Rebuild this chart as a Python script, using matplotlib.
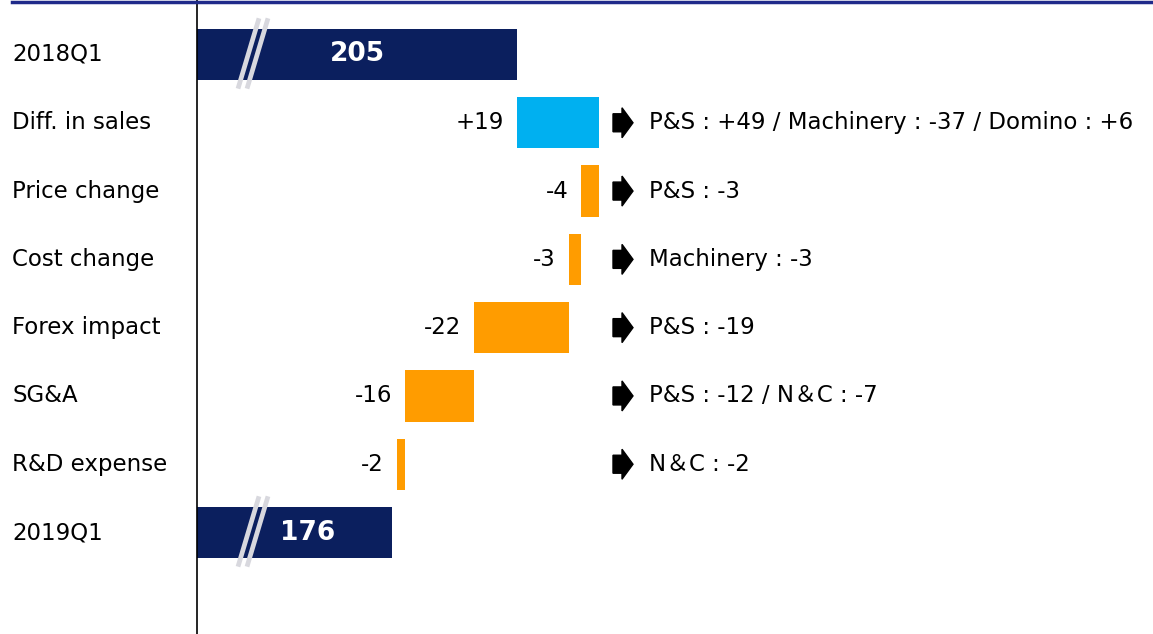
import matplotlib.pyplot as plt
from matplotlib.lines import Line2D
from matplotlib.patches import Polygon
import matplotlib.transforms as mtransforms

categories = ['2018Q1', 'Diff. in sales', 'Price change', 'Cost change',
              'Forex impact', 'SG&A', 'R&D expense', '2019Q1']
start_total = 205
end_total = 176
deltas = [19, -4, -3, -22, -16, -2]
notes = ['P&S : +49 / Machinery : -37 / Domino : +6', 'P&S : -3',
         'Machinery : -3', 'P&S : -19', 'P&S : -12 / N\uff06C : -7',
         'N\uff06C : -2']

NAVY = '#0b1f5e'
CYAN = '#00b0f0'
ORANGE = '#ff9c00'

W, H = 1153, 634
fig = plt.figure(figsize=(W / 100, H / 100), dpi=100)
ax = fig.add_axes([197 / W, 0, (W - 197) / W, 1])

# pixel scale of the original layout
PPU = 4.3          # px per unit on x
X0 = 130.6         # value at the axis line
ROW = 68.3         # px per row
ax.set_xlim(X0, X0 + (W - 197) / PPU)
ax.set_ylim(7 + (H - 532.5) / ROW, -54.5 / ROW)

fs = 16.5
fam = ['DejaVu Sans', 'Noto Sans CJK JP']
h = 0.75

# totals
ax.barh(0, start_total, height=h, color=NAVY)
ax.barh(7, end_total, height=h, color=NAVY)
ax.text((X0 + start_total) / 2, 0, str(start_total), color='white',
        fontsize=19, fontweight='bold', ha='center', va='center')
ax.text((X0 + end_total) / 2 + 3, 7, str(end_total), color='white',
        fontsize=19, fontweight='bold', ha='center', va='center')

# steps
cum = start_total
for i, d in enumerate(deltas, start=1):
    ax.barh(i, d, left=cum, height=h, color=CYAN if d > 0 else ORANGE)
    lo = min(cum, cum + d)
    lab = f'+{d}' if d > 0 else str(d)
    ax.text(lo - 13 / PPU, i, lab, fontsize=fs, ha='right', va='center')
    cum += d

# break marks on the total bars
for row in (0, 7):
    for off in (0, 9):
        xs = [X0 + (259 - 197 + off) / PPU, X0 + (238 - 197 + off) / PPU]
        ax.plot(xs, [row - 0.53, row + 0.5], color='#d8d8de', lw=3.4,
                solid_capstyle='butt', zorder=3)

# arrows and notes
ax_l = X0 + (613 - 197) / PPU
for i, note in enumerate(notes, start=1):
    pts = [(0, -9), (9, -9), (9, -15), (20, 0), (9, 15), (9, 9), (0, 9)]
    poly = [(ax_l + px / PPU, i + py / ROW) for px, py in pts]
    ax.add_patch(Polygon(poly, closed=True, color='black', zorder=3))
    ax.text(X0 + (649 - 197) / PPU, i, note, fontsize=fs, ha='left',
            va='center', family=fam)

# category labels
trans = mtransforms.blended_transform_factory(fig.transFigure, ax.transData)
for i, c in enumerate(categories):
    ax.text(12 / W, i, c, transform=trans, fontsize=fs, ha='left',
            va='center', family=fam, clip_on=False)

for s in ('top', 'right', 'bottom'):
    ax.spines[s].set_visible(False)
ax.spines['left'].set_linewidth(1.2)
ax.set_xticks([])
ax.set_yticks([])

fig.add_artist(Line2D([12 / W, 1], [1 - 1.5 / H] * 2, color='#1f2a8a', lw=2.5))

fig.savefig('out.png', dpi=100)
